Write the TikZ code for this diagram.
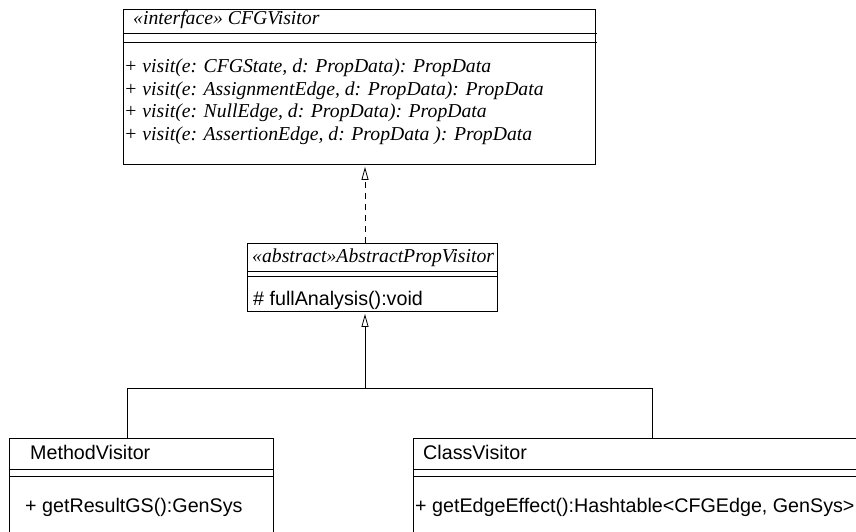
\documentclass[tikz,border=0pt]{standalone}
\usepackage{fontspec}
\setmainfont{Liberation Serif}
\setsansfont{Liberation Sans}
\usetikzlibrary{arrows.meta}
\begin{document}
\begin{tikzpicture}[x=1pt,y=-1pt,
  box/.style={draw, line width=0.9pt, inner sep=0pt, anchor=north west},
  ital/.style={font=\fontsize{19.7}{22}\selectfont\itshape, anchor=west, inner sep=0pt},
  sans/.style={font=\sffamily\fontsize{19.7}{22}\selectfont, anchor=west, inner sep=0pt},
  sep/.style={line width=0.9pt},
  conn/.style={line width=0.8pt},
  tri/.style={-{Triangle[open,length=13pt,width=7pt]}, shorten >=2pt},
]
\useasboundingbox (0,0) rectangle (856,532);
\clip (0,0) rectangle (856,532);

% CFGVisitor
\node[box, minimum width=472pt, minimum height=155pt] (cfg) at (123,9) {};
\draw[sep] (123,33) -- (597,33) (123,42) -- (597,42);
\node[ital] (cfgt) at (133,20) {«interface» CFGVisitor};
\node[ital] (m1) at (124,68) {+ visit(e: CFGState, d: PropData): PropData};
\node[ital] (m2) at (124,91) {+ visit(e: AssignmentEdge, d: PropData): PropData};
\node[ital] (m3) at (124,113) {+ visit(e: NullEdge, d: PropData): PropData};
\node[ital] (m4) at (124,136) {+ visit(e: AssertionEdge, d: PropData ): PropData};

% AbstractPropVisitor
\node[box, minimum width=250pt, minimum height=68pt] (abs) at (247,243) {};
\draw[sep] (247,271) -- (497,271) (247,276) -- (497,276);
\node[ital] (abst) at (252,258) {«abstract»AbstractPropVisitor};
\node[sans] (absm) at (253,300) {\# fullAnalysis():void};

% MethodVisitor
\node[box, minimum width=264pt, minimum height=110pt] (mv) at (9,438) {};
\draw[sep] (9,469) -- (273,469) (9,476) -- (273,476);
\node[sans] (mvt) at (30,452) {MethodVisitor};
\node[sans] (mvm) at (25,507) {+ getResultGS():GenSys};

% ClassVisitor
\node[box, minimum width=470pt, minimum height=110pt] (cv) at (413,438) {};
\draw[sep] (413,469) -- (883,469) (413,476) -- (883,476);
\node[sans] (cvt) at (423,452) {ClassVisitor};
\node[sans] (cvm) at (415,507) {+ getEdgeEffect():Hashtable<CFGEdge, GenSys>};

% connectors
\coordinate (dx) at (365,200);
\coordinate (lx) at (127,388);
\coordinate (rx) at (652,388);
\coordinate (jn) at (365,388);
\draw[conn, dash pattern=on 6pt off 5pt, tri] (abs.north -| dx) -- (cfg.south -| dx);
\draw[conn] (mv.north -| lx) -- (lx) -- (rx) -- (cv.north -| rx);
\draw[conn, tri] (jn) -- (abs.south -| jn);
\end{tikzpicture}
\end{document}
